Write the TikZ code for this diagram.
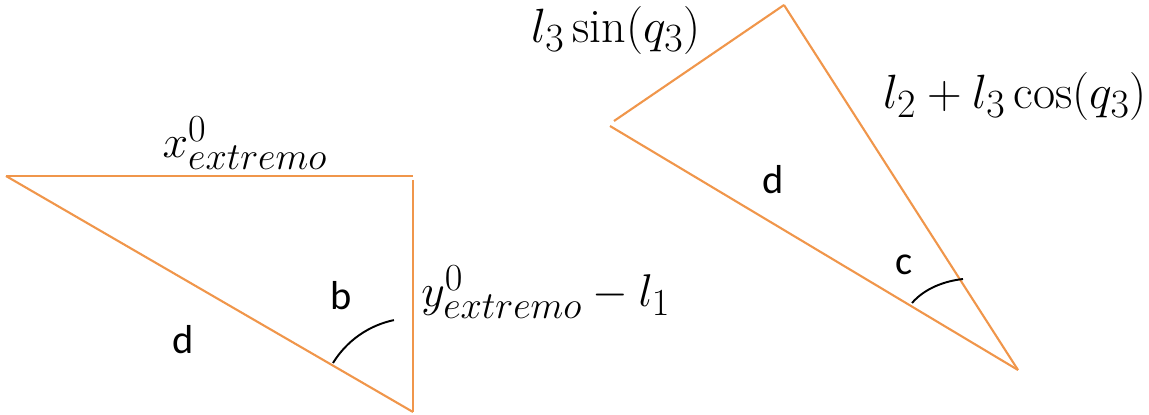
\documentclass[tikz,border=0pt]{standalone}
\usepackage{fontspec}
\newfontfamily\labelfont{Carlito}
\usetikzlibrary{positioning,calc}
\definecolor{SideOrange}{RGB}{240,150,75}
\newcommand{\bigmath}[2][1.1]{\scalebox{#1}{$#2$}}

\begin{document}
\begin{tikzpicture}[
        x=0.02cm, y=-0.02cm,
        side/.style={draw=SideOrange, line width=1.2pt},
        angarc/.style={draw=black, line width=1.1pt},
        mathlbl/.style={font=\fontsize{24.88}{30}\selectfont, inner sep=0pt},
        letter/.style={font=\labelfont\fontsize{23}{27}\selectfont, inner sep=0pt}
      ]
        \useasboundingbox (0,0) rectangle (1149,415);
        % left triangle
        \coordinate (lA) at (6,176);
        \coordinate (lB) at (413,176);
        \coordinate (lBv) at (413,180);
        \coordinate (lC) at (413,412);
        \draw[side] (lA) -- (lB);
        \draw[side] (lBv) -- (lC);
        \draw[side] (lA) -- (lC);
        \draw[angarc] ($(lC)+(-80,-49)$) arc[start angle=211.5, end angle=258.2, radius=94];
        \node[mathlbl] (xext) at (245,143) {\bigmath[1.05]{x^0_{extremo}}};
        \node[mathlbl, anchor=west] (yext) at (421,292) {\bigmath[1.05]{y^0_{extremo}-l_1}};
        \node[letter] (dleft) at (183,340) {d};
        \node[letter] (bang) at (341,296) {b};
        % right triangle
        \coordinate (rA) at (614,121);
        \coordinate (rAl) at (610,126);
        \coordinate (rB) at (784,5);
        \coordinate (rC) at (1018,370);
        \draw[side] (rA) -- (rB);
        \draw[side] (rB) -- (rC);
        \draw[side] (rAl) -- (rC);
        \coordinate (cs) at (912,303);
        \coordinate (ce) at (963,279);
        \draw[angarc] (cs) .. controls (925,288) and (945,281) .. (ce);
        \node[mathlbl] (lsin) at (616,30) {\bigmath{l_3\sin(q_3)}};
        \node[mathlbl] (lcos) at (1015,96) {\bigmath{l_2+l_3\cos(q_3)}};
        \node[letter] (dright) at (773,180) {d};
        \node[letter] (cang) at (904,265) {c};
      \end{tikzpicture}
\end{document}
